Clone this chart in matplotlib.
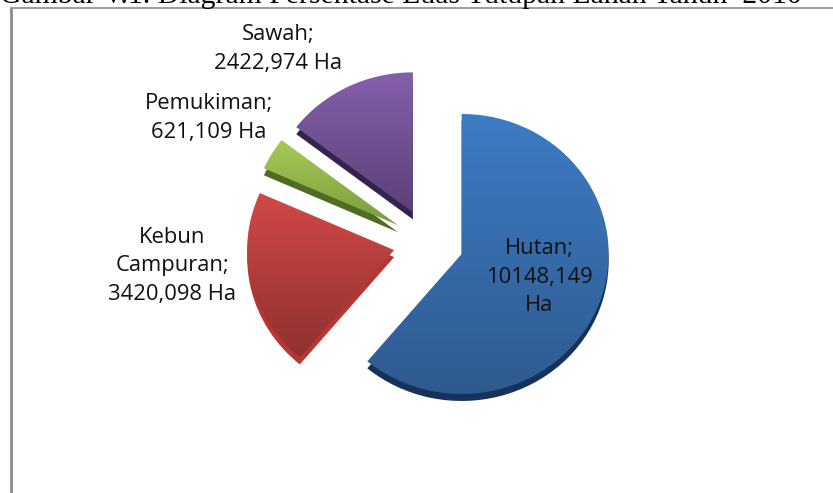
"""Exploded pie of land cover area, drawn in reference pixel coordinates."""
import matplotlib
matplotlib.use("Agg")
import matplotlib.pyplot as plt
import matplotlib.colors as mcolors
import numpy as np

W, H = 833, 493

# clockwise from 12 o'clock
LABELS = ["Hutan", "Kebun Campuran", "Pemukiman", "Sawah"]
AREAS = [10148.149, 3420.098, 621.109, 2422.974]
LABEL_TEXT = ["Hutan;\n10148,149\nHa", "Kebun\nCampuran;\n3420,098 Ha",
              "Pemukiman;\n621,109 Ha", "Sawah;\n2422,974 Ha"]
LABEL_XY = [(539, 277), (172, 266), (209, 118), (278, 49)]

C_TOP = ["#3d7cc4", "#d04a47", "#a4cb56", "#8460ab"]
C_BOT = ["#2f5a90", "#8f312f", "#7d9c3e", "#5c4178"]
C_RIM = ["#14325a", "#b83532", "#4f6b24", "#33234f"]

TITLE = "Gambar V.1. Diagram Persentase Luas Tutupan Lahan Tahun  2010"

CX, CY = 428.5, 242.5   # pie centre, pixels from top left
RX, RY = 147, 140
EXPLODE = 0.24
DEPTH = 7


def pie_layer(fig, offset, colors):
    # one axes per layer: 1 data unit = RX by RY pixels
    left = (CX - RX * 1.5) / W
    bottom = (H - CY - offset - RY * 1.5) / H
    ax = fig.add_axes([left, bottom, RX * 3 / W, RY * 3 / H])
    wedges, _ = ax.pie(AREAS, colors=colors, startangle=90, counterclock=False,
                       explode=[EXPLODE] * len(AREAS), radius=1)
    ax.set_aspect("auto")
    ax.set_xlim(-1.5, 1.5)
    ax.set_ylim(-1.5, 1.5)
    ax.patch.set_alpha(0)
    return ax, wedges


def main():
    fig = plt.figure(figsize=(W / 100, H / 100), dpi=100)
    bg = fig.add_axes([0, 0, 1, 1])
    bg.set_xlim(0, W)
    bg.set_ylim(H, 0)
    bg.axis("off")

    # page frame, only the left and top edges are in shot
    bg.plot([11.3, 11.3], [H, 7.5], color="#8c8c8c", lw=2.0, solid_capstyle="butt")
    bg.plot([10, W], [8.2, 8.2], color="#8c8c8c", lw=1.2, solid_capstyle="butt")
    bg.text(0, 3, TITLE, family="Liberation Serif", fontsize=21.4, color="black",
            ha="left", va="baseline", clip_on=False)

    pie_layer(fig, DEPTH, C_RIM)
    ax, wedges = pie_layer(fig, 0, C_TOP)
    for w, top, bot in zip(wedges, C_TOP, C_BOT):
        w.set_facecolor("none")
        cmap = mcolors.LinearSegmentedColormap.from_list("g", [top, bot])
        box = w.get_path().get_extents(w.get_patch_transform())
        grad = np.linspace(0, 1, 128).reshape(-1, 1)
        im = ax.imshow(grad, cmap=cmap, aspect="auto", zorder=0.5,
                       extent=[box.x0, box.x1, box.y0, box.y1], origin="upper")
        im.set_clip_path(w)
    ax.set_aspect("auto")
    ax.set_xlim(-1.5, 1.5)
    ax.set_ylim(-1.5, 1.5)

    txt = fig.add_axes([0, 0, 1, 1])
    txt.set_xlim(0, W)
    txt.set_ylim(H, 0)
    txt.axis("off")
    for s, (x, y) in zip(LABEL_TEXT, LABEL_XY):
        txt.text(x, y, s, family="Open Sans", fontsize=15.8, color="#111111",
                 ha="center", va="center", linespacing=1.45)

    fig.savefig("out.png", dpi=100)
    plt.close(fig)


if __name__ == "__main__":
    main()
